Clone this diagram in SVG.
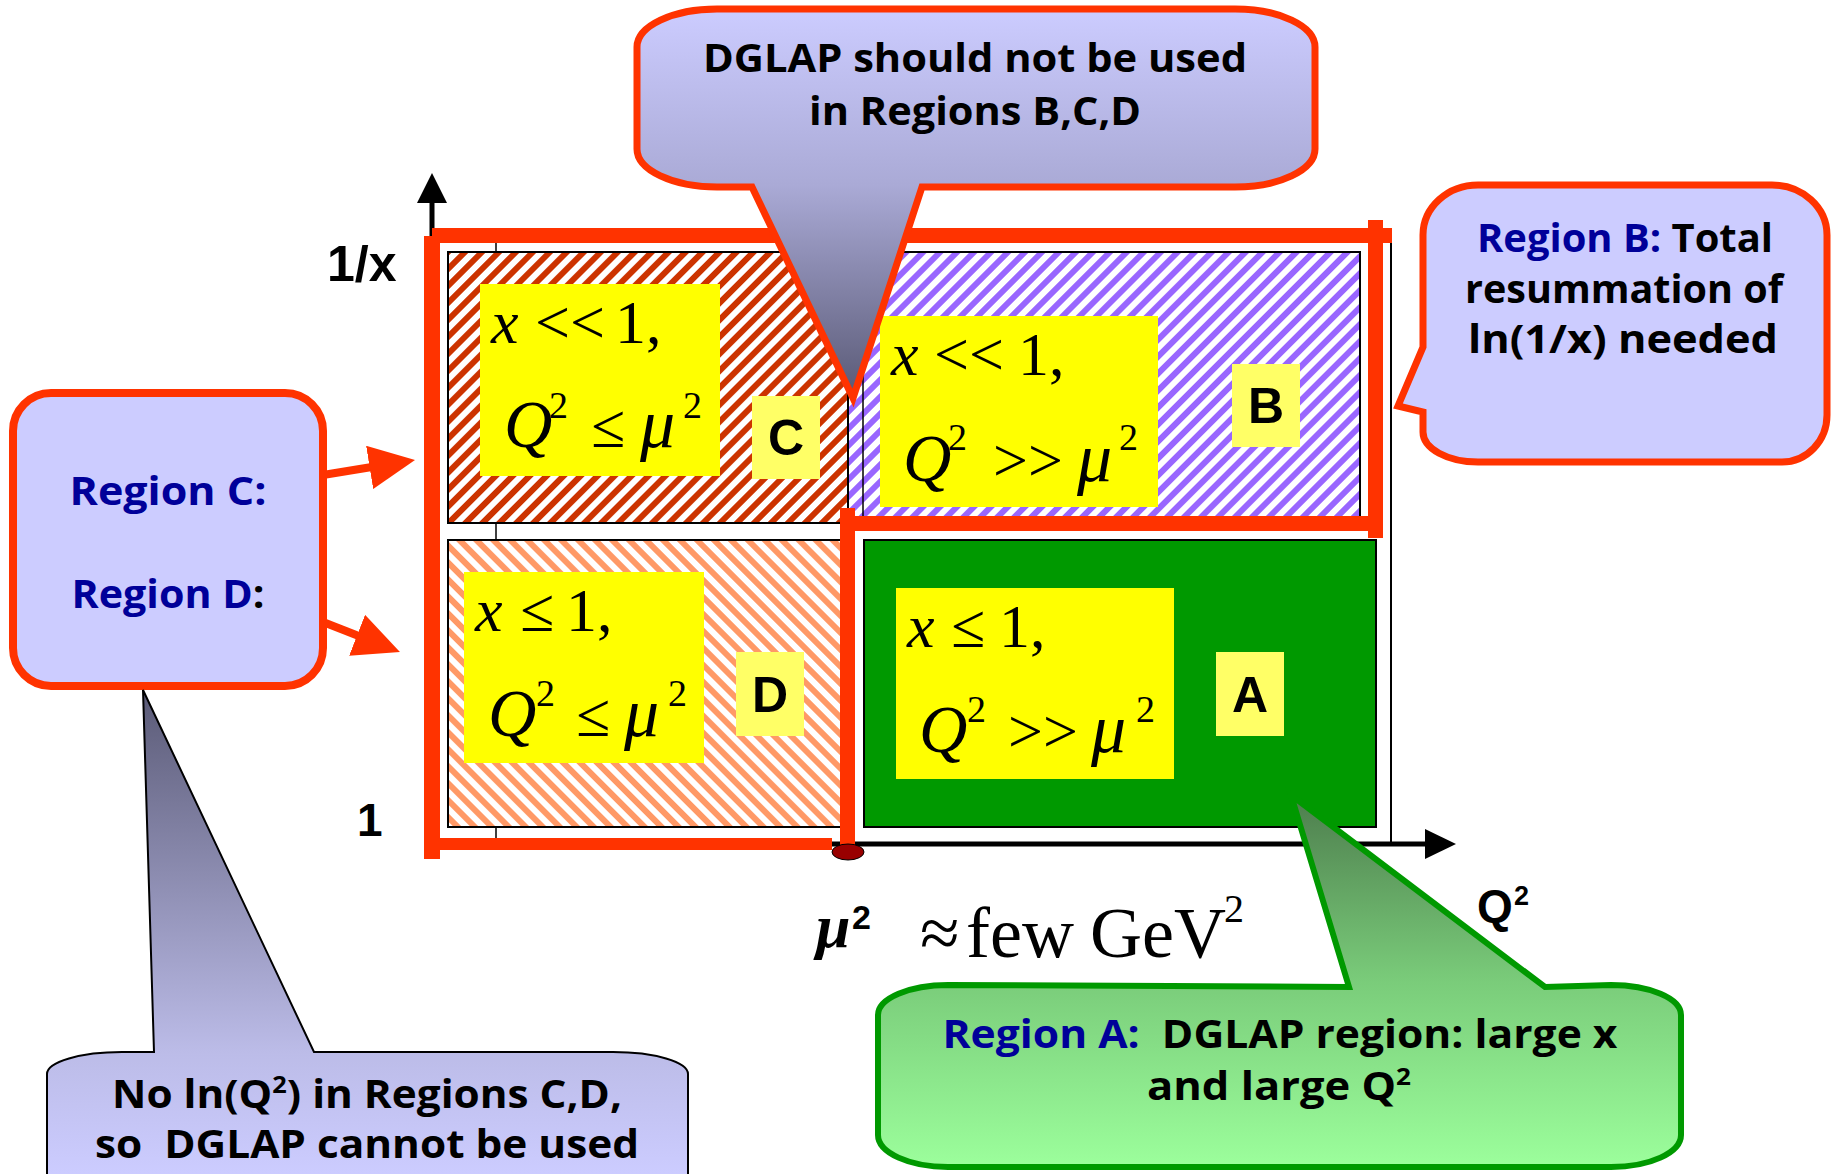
<svg xmlns="http://www.w3.org/2000/svg" width="1834" height="1174" viewBox="0 0 1834 1174">
<style>
.cell{stroke:#000;stroke-width:2}
.yb{fill:#ffff00}
.lb{fill:#ffff66}
.red{fill:#ff3300}
.thin{stroke:#000;stroke-width:1.5;fill:none}
.axis{stroke:#000;stroke-width:5;fill:none}
.m{font-family:"Liberation Serif","Times New Roman",serif;font-size:62px;fill:#000}
.i{font-style:italic}
.q{font-size:67px}
.mu{font-size:70px}
.sup{font-size:38px}
.lbl{font-family:"Liberation Sans",Arial,sans-serif;font-weight:bold;font-size:50px;text-anchor:middle;fill:#000}
.ax{font-family:"Liberation Sans",Arial,sans-serif;font-weight:bold;fill:#000}
.ct{font-family:"Open Sans","Noto Sans",sans-serif;font-weight:bold;font-size:40px;text-anchor:middle;fill:#000}
.blue{fill:#000099}
.conn{stroke:#ff3300;stroke-width:8;fill:none;marker-end:url(#ah)}
</style>
<defs>
<pattern id="hatchC" patternUnits="userSpaceOnUse" width="12" height="12" patternTransform="rotate(45)">
<rect width="12" height="12" fill="#ffffff"/><rect width="6" height="12" fill="#cc3300"/>
</pattern>
<pattern id="hatchB" patternUnits="userSpaceOnUse" width="12" height="12" patternTransform="rotate(45)">
<rect width="12" height="12" fill="#ffffff"/><rect width="6" height="12" fill="#9966ff"/>
</pattern>
<pattern id="hatchD" patternUnits="userSpaceOnUse" width="12" height="12" patternTransform="rotate(-45)">
<rect width="12" height="12" fill="#ffffff"/><rect width="6" height="12" fill="#ff9966"/>
</pattern>
<linearGradient id="gTop" gradientUnits="userSpaceOnUse" x1="0" y1="9" x2="0" y2="400">
<stop offset="0" stop-color="#ccccff"/><stop offset="0.45" stop-color="#aaaad6"/><stop offset="1" stop-color="#585874"/>
</linearGradient>
<linearGradient id="gLeft" gradientUnits="userSpaceOnUse" x1="0" y1="690" x2="0" y2="1174">
<stop offset="0" stop-color="#5a5a76"/><stop offset="0.75" stop-color="#bcbce8"/><stop offset="1" stop-color="#ccccff"/>
</linearGradient>
<linearGradient id="gGreen" gradientUnits="userSpaceOnUse" x1="0" y1="795" x2="0" y2="1168">
<stop offset="0" stop-color="#4d7d4d"/><stop offset="0.5" stop-color="#7acc7a"/><stop offset="1" stop-color="#9cff9c"/>
</linearGradient>
<marker id="ah" markerUnits="userSpaceOnUse" markerWidth="48" markerHeight="46" refX="10" refY="22" orient="auto">
<path d="M0,0 L46,22 L0,44 Z" fill="#ff3300"/>
</marker>
</defs>

<rect width="1834" height="1174" fill="#ffffff"/>

<g id="frame">
<line class="thin" x1="1391" y1="236" x2="1391" y2="843" style="stroke-width:2"/>
<line class="thin" x1="496" y1="243" x2="496" y2="252"/>
<line class="thin" x1="496" y1="523" x2="496" y2="540"/>
<line class="thin" x1="496" y1="827" x2="496" y2="843"/>
</g>

<g id="regionB">
<rect class="cell" x="848" y="252" width="512" height="271" fill="url(#hatchB)"/>
<line class="thin" x1="863" y1="252" x2="863" y2="523"/>
<rect class="yb" x="880" y="316" width="278" height="191"/>
<text class="m" y="375"><tspan class="i" x="891">x</tspan><tspan x="934">&lt;&lt;</tspan><tspan x="1018">1,</tspan></text>
<text class="m" y="481"><tspan class="i q" x="903">Q</tspan><tspan class="sup" x="948" y="450">2</tspan><tspan x="993" y="481">&gt;&gt;</tspan><tspan class="i mu" x="1077">μ</tspan><tspan class="sup" x="1119" y="450">2</tspan></text>
<rect class="lb" x="1232" y="364" width="68" height="83"/>
<text class="lbl" x="1266" y="423">B</text>
</g>

<g id="regionC">
<rect class="cell" x="448" y="252" width="400" height="271" fill="url(#hatchC)"/>
<rect class="yb" x="480" y="284" width="240" height="192"/>
<text class="m" y="343"><tspan class="i" x="491">x</tspan><tspan x="535">&lt;&lt;</tspan><tspan x="615">1,</tspan></text>
<text class="m" y="447"><tspan class="i q" x="504">Q</tspan><tspan class="sup" x="549" y="418">2</tspan><tspan x="591" y="447">≤</tspan><tspan class="i mu" x="640">μ</tspan><tspan class="sup" x="683" y="418">2</tspan></text>
<rect class="lb" x="752" y="396" width="68" height="83"/>
<text class="lbl" x="786" y="455">C</text>
</g>

<g id="regionD">
<rect class="cell" x="448" y="540" width="395" height="287" fill="url(#hatchD)"/>
<rect class="yb" x="464" y="572" width="240" height="191"/>
<text class="m" y="631"><tspan class="i" x="475">x</tspan><tspan x="520">≤</tspan><tspan x="566">1,</tspan></text>
<text class="m" y="736"><tspan class="i q" x="488">Q</tspan><tspan class="sup" x="536" y="706">2</tspan><tspan x="576" y="736">≤</tspan><tspan class="i mu" x="624">μ</tspan><tspan class="sup" x="668" y="706">2</tspan></text>
<rect class="lb" x="736" y="652" width="68" height="84"/>
<text class="lbl" x="770" y="712">D</text>
</g>

<g id="regionA">
<rect class="cell" x="864" y="540" width="512" height="287" fill="#009900"/>
<rect class="yb" x="896" y="588" width="278" height="191"/>
<text class="m" y="647"><tspan class="i" x="907">x</tspan><tspan x="951">≤</tspan><tspan x="999">1,</tspan></text>
<text class="m" y="752"><tspan class="i q" x="919">Q</tspan><tspan class="sup" x="967" y="722">2</tspan><tspan x="1008" y="752">&gt;&gt;</tspan><tspan class="i mu" x="1091">μ</tspan><tspan class="sup" x="1136" y="722">2</tspan></text>
<rect class="lb" x="1216" y="652" width="68" height="84"/>
<text class="lbl" x="1250" y="712">A</text>
</g>

<g id="axes">
<line class="axis" x1="432" y1="844" x2="432" y2="200"/>
<polygon points="417,203 447,203 432,173" fill="#000"/>
<line class="axis" x1="432" y1="844" x2="1428" y2="844"/>
<polygon points="1425,829 1425,859 1456,844" fill="#000"/>
<text class="ax" x="327" y="281" font-size="50">1/x</text>
<text class="ax" x="357" y="836" font-size="46">1</text>
<text class="ax" x="1477" y="922" font-size="46">Q</text>
<text class="ax" x="1514" y="905" font-size="27">2</text>
</g>

<g id="boundaries">
<rect class="red" x="432" y="228" width="960" height="15"/>
<rect class="red" x="1368" y="220" width="15" height="318"/>
<rect class="red" x="424" y="236" width="16" height="623"/>
<rect class="red" x="432" y="838" width="400" height="12"/>
<rect class="red" x="840" y="516" width="543" height="15"/>
<rect class="red" x="840" y="508" width="15" height="337"/>
<ellipse cx="848" cy="852" rx="16" ry="8" fill="#990000" stroke="#000" stroke-width="1"/>
</g>

<g id="mu-label">
<text x="816" y="947" style="font-family:'Liberation Serif',serif;font-weight:bold;font-style:italic;font-size:62px">μ</text>
<text class="ax" x="852" y="929" font-size="34">2</text>
<text class="m" y="957" style="font-size:72px"><tspan x="920">≈</tspan><tspan x="966">few</tspan><tspan x="1090">GeV</tspan><tspan x="1224" y="922" style="font-size:40px">2</tspan></text>
</g>

<g id="connectors">
<line class="conn" x1="323" y1="475" x2="379.5" y2="465.8"/>
<line class="conn" x1="323" y1="622" x2="366.4" y2="638.9"/>
</g>

<g id="calloutTop">
<path d="M717,9 L1235,9 A80,38 0 0 1 1315,47 L1315,149 A80,38 0 0 1 1235,187 L922,187 L853,398 L752,187 L717,187 A80,38 0 0 1 637,149 L637,47 A80,38 0 0 1 717,9 Z" fill="url(#gTop)" stroke="#ff3300" stroke-width="7" stroke-linejoin="miter"/>
<text class="ct" x="975" y="72" font-size="41" textLength="544" lengthAdjust="spacingAndGlyphs">DGLAP should not be used</text>
<text class="ct" x="975" y="125" font-size="41" textLength="332" lengthAdjust="spacingAndGlyphs">in Regions B,C,D</text>
</g>

<g id="calloutB">
<path d="M1478,185 L1772,185 A55,50 0 0 1 1827,235 L1827,415 A45,47 0 0 1 1782,462 L1478,462 A55,30 0 0 1 1423,432 L1423,412 L1398,406 L1423,347 L1423,235 A55,50 0 0 1 1478,185 Z" fill="#ccccff" stroke="#ff3300" stroke-width="7"/>
<text class="ct" x="1625" y="252" font-size="38" textLength="296" lengthAdjust="spacingAndGlyphs"><tspan class="blue">Region B:</tspan> Total</text>
<text class="ct" x="1624" y="303" font-size="38" textLength="318" lengthAdjust="spacingAndGlyphs">resummation of</text>
<text class="ct" x="1623" y="353" font-size="38" textLength="310" lengthAdjust="spacingAndGlyphs">ln(1/x) needed</text>
</g>

<g id="boxCD">
<rect x="13" y="393" width="310" height="293" rx="38" ry="38" fill="#ccccff" stroke="#ff3300" stroke-width="8"/>
<text class="ct blue" x="168" y="505" font-size="41" textLength="197" lengthAdjust="spacingAndGlyphs">Region C:</text>
<text class="ct blue" x="168" y="608" font-size="41" textLength="193" lengthAdjust="spacingAndGlyphs">Region D<tspan fill="#000">:</tspan></text>
</g>

<g id="calloutCD">
<path d="M47,1200 L47,1074 A75,22 0 0 1 122,1052 L154,1052 L143,690 L314,1052 L613,1052 A75,22 0 0 1 688,1074 L688,1200 Z" fill="url(#gLeft)" stroke="#000" stroke-width="2"/>
<text class="ct" x="367" y="1108" font-size="40" textLength="510" lengthAdjust="spacingAndGlyphs">No ln(Q<tspan font-size="24" dy="-15">2</tspan><tspan dy="15">) in Regions C,D,</tspan></text>
<text class="ct" x="367" y="1158" font-size="40" textLength="544" lengthAdjust="spacingAndGlyphs" xml:space="preserve">so  DGLAP cannot be used</text>
</g>

<g id="calloutA">
<path d="M948,985 L1349,987 L1291,795 L1545,987 L1611,985 A70,30 0 0 1 1681,1015 L1681,1135 A70,32 0 0 1 1611,1167 L948,1167 A70,32 0 0 1 878,1135 L878,1015 A70,30 0 0 1 948,985 Z" fill="url(#gGreen)" stroke="#009900" stroke-width="6"/>
<text class="ct" x="1280" y="1048" font-size="39" textLength="675" lengthAdjust="spacingAndGlyphs" xml:space="preserve"><tspan class="blue">Region A:</tspan>  DGLAP region: large x</text>
<text class="ct" x="1279" y="1100" font-size="39" textLength="264" lengthAdjust="spacingAndGlyphs">and large Q<tspan font-size="24" dy="-15">2</tspan></text>
</g>
</svg>
